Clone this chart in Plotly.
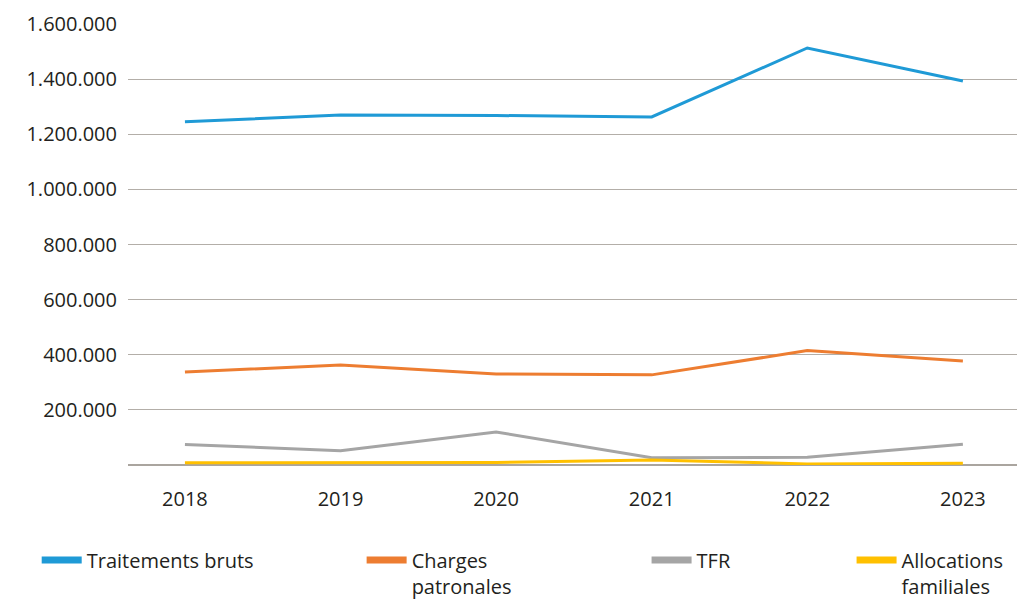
import plotly.graph_objects as go

# valori
anni = ["2018", "2019", "2020", "2021", "2022", "2023"]
traitements_bruts = [1245000, 1270000, 1268000, 1263000, 1513000, 1393000]
charges_patronales = [337000, 363000, 330000, 327000, 415000, 377000]
tfr = [74000, 52000, 120000, 26000, 28000, 75000]
allocations_familiales = [8000, 8000, 9000, 18000, 4000, 6000]

y_ticks = [0, 200000, 400000, 600000, 800000, 1000000, 1200000, 1400000, 1600000]
y_labels = ["", "200.000", "400.000", "600.000", "800.000", "1.000.000",
            "1.200.000", "1.400.000", "1.600.000"]

series = [
    ("Traitements bruts", traitements_bruts, "#1f9ad6", "legend"),
    ("Charges<br>patronales", charges_patronales, "#ed7d31", "legend2"),
    ("TFR", tfr, "#a5a5a5", "legend3"),
    ("Allocations<br>familiales", allocations_familiales, "#ffc000", "legend4"),
]

fig = go.Figure()
for name, vals, col, leg in series:
    fig.add_trace(go.Scatter(
        x=anni, y=vals, name=name, mode="lines",
        line=dict(color=col, width=3),
        legendgroup=name, showlegend=False))
    # voce di legenda con tratto piu spesso
    fig.add_trace(go.Scatter(
        x=[None], y=[None], name=name, mode="lines",
        line=dict(color=col, width=7),
        legendgroup=name, legend=leg))

# la pagina ha 8px di margine del body: figura ridotta di conseguenza
W, H = 1017, 593

font = dict(family="Open Sans", size=20, color="#231f20")
leg_common = dict(orientation="h", xref="container", yref="container",
                  xanchor="left", yanchor="top", y=0.102,
                  font=dict(family="Open Sans", size=20, color="#231f20"),
                  bgcolor="rgba(0,0,0,0)", itemwidth=40, valign="top",
                  tracegroupgap=0)

fig.update_layout(
    width=W, height=H,
    margin=dict(l=120, r=3, t=16, b=136, autoexpand=False),
    plot_bgcolor="white", paper_bgcolor="white",
    font=font,
    xaxis=dict(range=[-0.366, 5.38], showgrid=False, showline=False,
               ticks="", ticklabelstandoff=20, tickfont=font),
    yaxis=dict(range=[0, 1600000], tickvals=y_ticks, ticktext=y_labels,
               showgrid=True, gridcolor="#b3aea8", gridwidth=1,
               zeroline=True, zerolinecolor="#aaa59f", zerolinewidth=2,
               ticks="", ticklabelstandoff=10, tickfont=font),
    legend=dict(leg_common, x=0.028 * 1025 / W),
    legend2=dict(leg_common, x=0.345 * 1025 / W),
    legend3=dict(leg_common, x=0.623 * 1025 / W),
    legend4=dict(leg_common, x=0.823 * 1025 / W),
)

fig.write_html("out.html")
